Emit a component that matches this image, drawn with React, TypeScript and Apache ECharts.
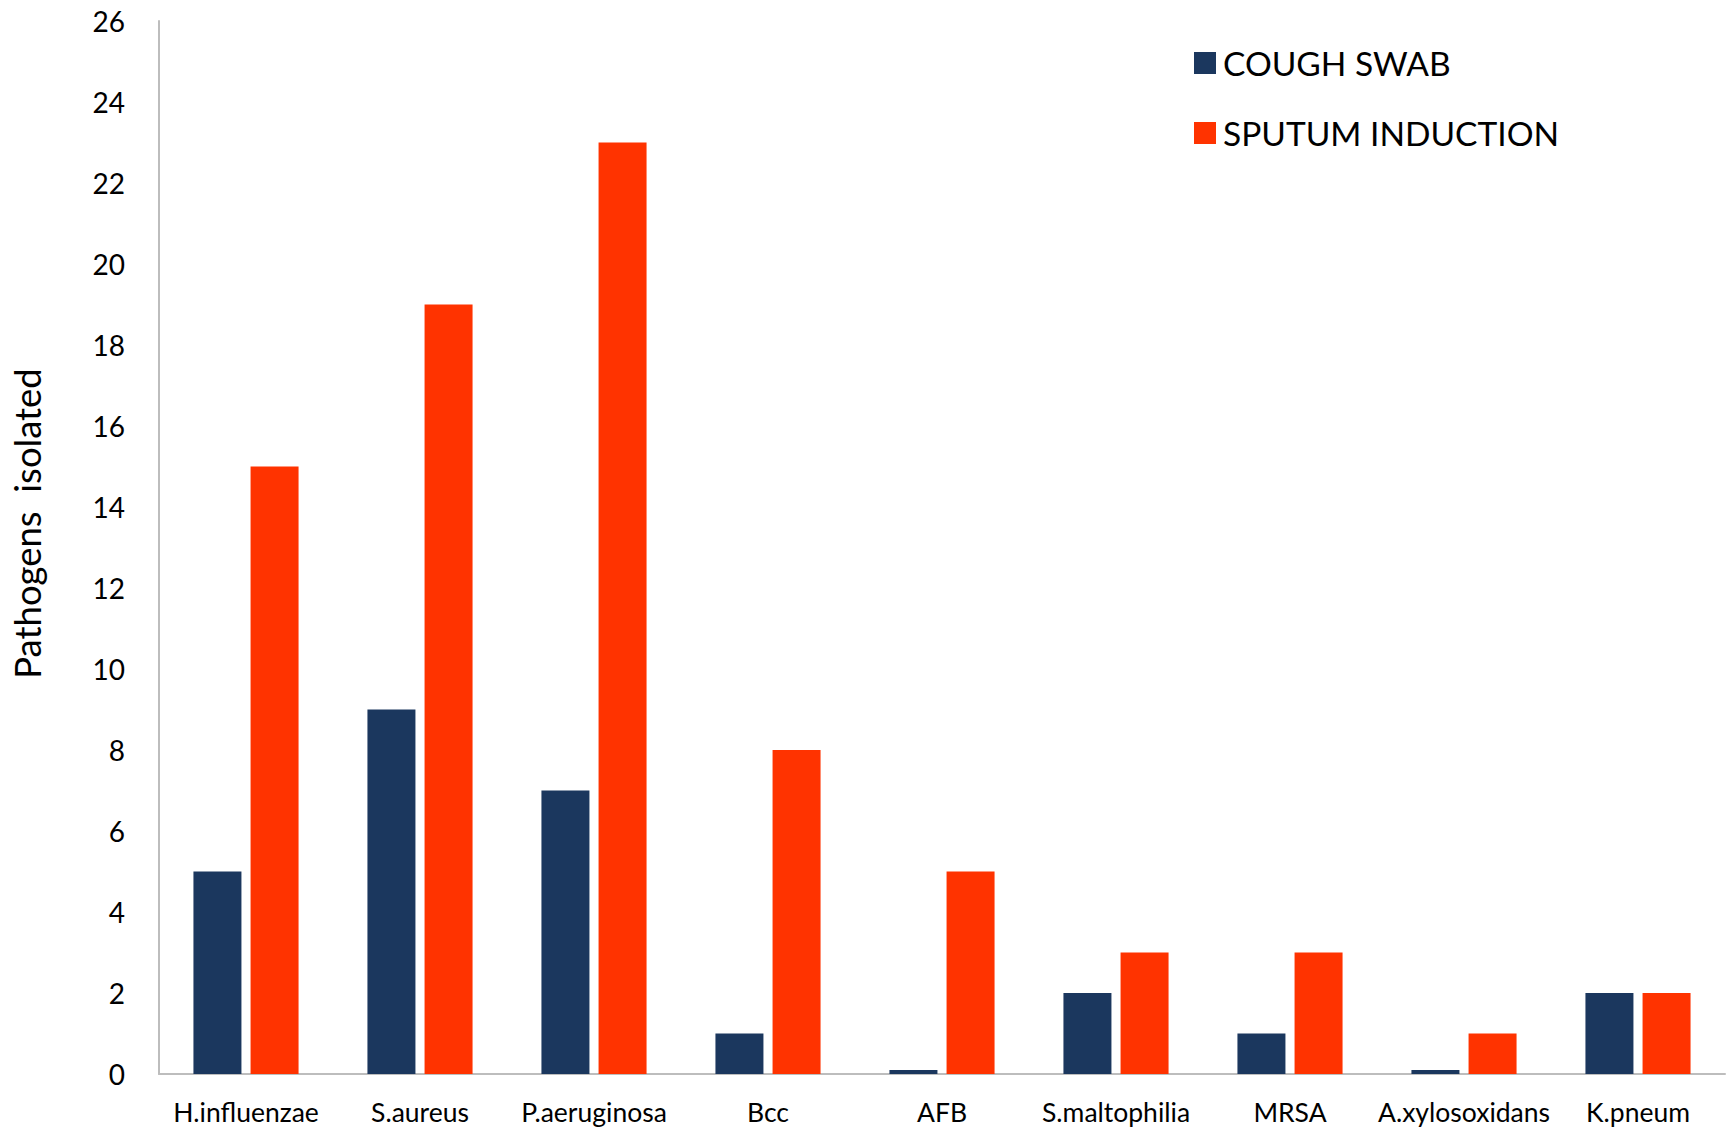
import React, { useEffect, useRef } from "react";
import * as echarts from "echarts";

const categories = [
  "H.influenzae",
  "S.aureus",
  "P.aeruginosa",
  "Bcc",
  "AFB",
  "S.maltophilia",
  "MRSA",
  "A.xylosoxidans",
  "K.pneum",
];
const coughSwab = [5, 9, 7, 1, 0.1, 2, 1, 0.1, 2];
const sputumInduction = [15, 19, 23, 8, 5, 3, 3, 1, 2];
const seriesNames = ["COUGH SWAB", "SPUTUM INDUCTION"];
const seriesColors = ["#1B375E", "#FF3300"];

const FONT = "Lato, 'Open Sans', sans-serif";

export default function App() {
  const ref = useRef<HTMLDivElement>(null);

  useEffect(() => {
    document.body.style.margin = "0";
    if (!ref.current) return;
    const chart = echarts.init(ref.current, null, { renderer: "svg" });
    chart.setOption({
      animation: false,
      backgroundColor: "#ffffff",
      textStyle: { fontFamily: FONT, color: "#000" },
      grid: { left: 158, right: 11, top: 21, bottom: 56, containLabel: false },
      legend: {
        orient: "vertical",
        left: 1189,
        top: 41,
        itemWidth: 22,
        itemHeight: 22,
        itemGap: 36,
        icon: "rect",
        textStyle: { fontFamily: FONT, fontSize: 33.5, color: "#000", padding: [0, 0, 0, 2] },
        data: seriesNames,
      },
      xAxis: {
        type: "category",
        data: categories,
        axisLine: { lineStyle: { color: "#BDBDBD", width: 2 } },
        axisTick: { show: false },
        axisLabel: { fontFamily: FONT, fontSize: 26.5, color: "#000", margin: 24, interval: 0 },
      },
      yAxis: {
        type: "value",
        min: 0,
        max: 26,
        interval: 2,
        name: "Pathogens  isolated",
        nameLocation: "middle",
        nameRotate: 90,
        nameGap: 114,
        nameTextStyle: {
          fontFamily: FONT,
          fontSize: 36.5,
          color: "#000",
          padding: [0, 0, 0, 48],
        },
        axisLine: { show: true, lineStyle: { color: "#BDBDBD", width: 2 } },
        axisTick: { show: false },
        splitLine: { show: false },
        axisLabel: { fontFamily: FONT, fontSize: 28, color: "#000", margin: 34 },
      },
      series: [
        {
          name: seriesNames[0],
          type: "bar",
          data: coughSwab,
          barWidth: 48,
          barGap: "19%",
          itemStyle: { color: seriesColors[0] },
        },
        {
          name: seriesNames[1],
          type: "bar",
          data: sputumInduction,
          barWidth: 48,
          barGap: "19%",
          itemStyle: { color: seriesColors[1] },
        },
      ],
    });
    return () => chart.dispose();
  }, []);

  return <div ref={ref} style={{ width: 1736, height: 1130 }} />;
}
